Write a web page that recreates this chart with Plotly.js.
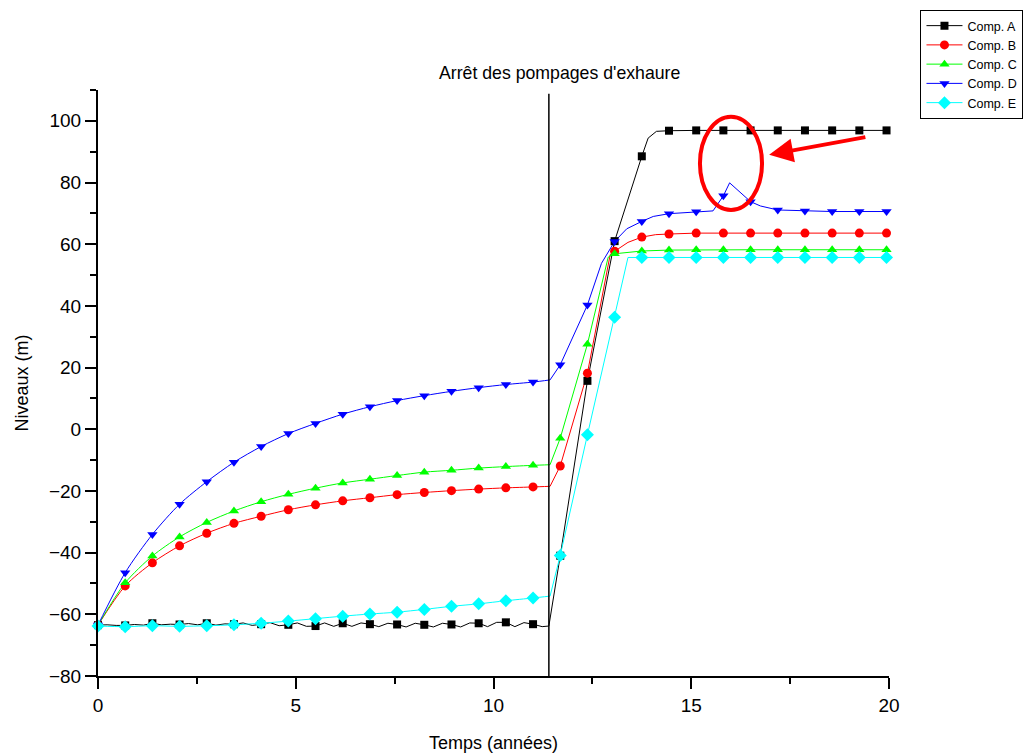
<!DOCTYPE html>
<html>
<head>
<meta charset="utf-8">
<script src="https://cdn.plot.ly/plotly-3.0.1.min.js"></script>
<style>
  html, body { margin: 0; padding: 0; background: #fff; }
  #chart { width: 1026px; height: 754px; }
</style>
</head>
<body>
<div id="chart"></div>
<script>
// Sampling times of the plotted markers (years)
const tMarks = [0, 0.6875, 1.375, 2.0625, 2.75, 3.4375, 4.125, 4.8125, 5.5, 6.1875,
  6.875, 7.5625, 8.25, 8.9375, 9.625, 10.3125, 11, 11.6875, 12.375, 13.0625,
  13.75, 14.4375, 15.125, 15.8125, 16.5, 17.1875, 17.875, 18.5625, 19.25, 19.9375];

// Levels (m) at the marker times
const compA = [-63.5, -63.6, -62.9, -63.3, -62.9, -63.2, -63.2, -63.4, -63.8, -62.9,
  -63.2, -63.3, -63.4, -63.3, -62.9, -62.6, -63.2, -41.0, 15.7, 61.0,
  88.5, 96.8, 96.9, 96.9, 96.9, 96.9, 96.9, 96.9, 96.9, 96.9];
const compB = [-63.5, -50.8, -43.3, -37.8, -33.7, -30.5, -28.2, -26.1, -24.5, -23.2,
  -22.2, -21.2, -20.5, -19.9, -19.4, -19.0, -18.7, -11.9, 18.2, 57.7,
  62.3, 63.3, 63.6, 63.6, 63.6, 63.6, 63.6, 63.6, 63.6, 63.6];
const compC = [-63.5, -49.8, -41.1, -34.9, -30.2, -26.5, -23.5, -21.1, -19.1, -17.4,
  -16.2, -15.0, -13.9, -13.3, -12.6, -12.1, -11.7, -2.9, 27.6, 56.9,
  57.8, 58.1, 58.2, 58.2, 58.2, 58.2, 58.2, 58.2, 58.2, 58.2];
const compD = [-63.5, -46.5, -34.1, -24.3, -17.0, -10.7, -5.6, -1.4, 1.9, 4.9,
  7.3, 9.3, 10.9, 12.3, 13.5, 14.5, 15.3, 20.9, 40.3, 60.9,
  67.4, 69.9, 70.5, 75.7, 73.8, 71.1, 70.8, 70.6, 70.6, 70.6];
const compE = [-63.8, -64.0, -63.7, -63.9, -63.7, -63.4, -62.9, -62.2, -61.4, -60.6,
  -59.9, -59.3, -58.4, -57.4, -56.6, -55.6, -54.7, -40.9, -1.8, 36.3,
  55.7, 55.7, 55.7, 55.7, 55.7, 55.7, 55.7, 55.7, 55.7, 55.7];

// Comp. A during pumping: finely sampled, oscillating record
const tA_pre = [0, 0.23, 0.46, 0.69, 0.92, 1.15, 1.38, 1.60, 1.83, 2.06, 2.29, 2.52, 2.75,
  2.98, 3.21, 3.44, 3.67, 3.90, 4.13, 4.35, 4.58, 4.81, 5.04, 5.27, 5.50, 5.73, 5.96,
  6.19, 6.42, 6.65, 6.88, 7.10, 7.33, 7.56, 7.79, 8.02, 8.25, 8.48, 8.71, 8.94, 9.17,
  9.40, 9.63, 9.85, 10.08, 10.31, 10.54, 10.77, 11.00, 11.23, 11.40];
const compA_pre = [-63.5, -63.4, -63.6, -63.6, -63.3, -63.5, -62.9, -63.4, -63.2, -63.3,
  -63.0, -63.4, -62.9, -63.5, -63.1, -63.2, -62.8, -63.6, -63.2, -62.7, -63.7, -63.4,
  -62.8, -63.9, -63.8, -62.8, -63.9, -62.9, -63.9, -62.8, -63.2, -64.0, -62.9, -63.3,
  -64.1, -62.9, -63.4, -64.1, -62.9, -63.3, -64.1, -62.8, -62.9, -64.0, -62.6, -62.6,
  -64.0, -62.7, -63.2, -64.0, -63.8];

// End of pumping (years) and level just before recovery for B..E
const tStop = 11.4;
const tKink = 11.43;
const kinkB = -18.5, kinkC = -11.5, kinkD = 16.0, kinkE = -54.1;

// Recovery phase, finer record
const tA_post = [11.4, 11.6875, 12.375, 13.0625, 13.75, 13.91, 14.12, 14.4375, 15.125,
  15.8125, 16.5, 17.1875, 17.875, 18.5625, 19.25, 19.9375];
const compA_post = [-63.8, -41.0, 15.7, 61.0, 88.5, 94.4, 96.6, 96.8, 96.9,
  96.9, 96.9, 96.9, 96.9, 96.9, 96.9, 96.9];
const tB_post = [11.43, 11.6875, 12.375, 12.95, 13.0625, 13.4, 13.75, 14.1, 14.4375,
  15.125, 15.8125, 16.5, 17.1875, 17.875, 18.5625, 19.25, 19.9375];
const compB_post = [-18.5, -11.9, 18.2, 56.6, 57.7, 60.6, 62.3, 63.1, 63.3,
  63.6, 63.6, 63.6, 63.6, 63.6, 63.6, 63.6, 63.6];
const tC_post = [11.43, 11.6875, 12.375, 12.9, 13.0625, 13.75, 14.4375, 15.125,
  15.8125, 16.5, 17.1875, 17.875, 18.5625, 19.25, 19.9375];
const compC_post = [-11.5, -2.9, 27.6, 55.8, 56.9, 57.8, 58.1, 58.2,
  58.2, 58.2, 58.2, 58.2, 58.2, 58.2, 58.2];
const tD_post = [11.43, 11.6875, 12.375, 12.73, 13.0625, 13.37, 13.75, 14.04, 14.4375,
  15.125, 15.55, 15.8125, 15.97, 16.5, 16.75, 17.1875, 17.875, 18.5625, 19.25, 19.9375];
const compD_post = [16.0, 20.9, 40.3, 53.8, 60.9, 65.0, 67.4, 69.0, 69.9,
  70.5, 70.8, 75.7, 79.9, 73.8, 72.4, 71.1, 70.8, 70.6, 70.6, 70.6];
const tE_post = [11.43, 11.6875, 12.375, 13.0625, 13.40, 13.75, 14.4375, 15.125,
  15.8125, 16.5, 17.1875, 17.875, 18.5625, 19.25, 19.9375];
const compE_post = [-54.1, -40.9, -1.8, 36.3, 55.7, 55.7, 55.7, 55.7,
  55.7, 55.7, 55.7, 55.7, 55.7, 55.7, 55.7];

const names = ['Comp. A', 'Comp. B', 'Comp. C', 'Comp. D', 'Comp. E'];
const colors = ['#000000', '#ff0000', '#00ff00', '#0000ff', '#00ffff'];
const symbols = ['square', 'circle', 'triangle-up', 'triangle-down', 'diamond'];
const sizes = [8, 9, 9, 9, 10];

const nPre = 17; // markers recorded before the stop
const preT = tMarks.slice(0, nPre).concat([tKink]);

const lines = [
  { pre: [tA_pre, compA_pre, 'linear'], post: [tA_post, compA_post], marks: compA },
  { pre: [preT, compB.slice(0, nPre).concat([kinkB]), 'spline'], post: [tB_post, compB_post], marks: compB },
  { pre: [preT, compC.slice(0, nPre).concat([kinkC]), 'spline'], post: [tC_post, compC_post], marks: compC },
  { pre: [preT, compD.slice(0, nPre).concat([kinkD]), 'spline'], post: [tD_post, compD_post], marks: compD },
  { pre: [preT, compE.slice(0, nPre).concat([kinkE]), 'spline'], post: [tE_post, compE_post], marks: compE }
];

const traces = [];
lines.forEach((s, i) => {
  traces.push({
    x: s.pre[0], y: s.pre[1], type: 'scatter', mode: 'lines',
    line: { color: colors[i], width: 1, shape: s.pre[2], smoothing: 0.8 },
    showlegend: false, hoverinfo: 'skip', cliponaxis: false
  });
  traces.push({
    x: s.post[0], y: s.post[1], type: 'scatter', mode: 'lines',
    line: { color: colors[i], width: 1 },
    showlegend: false, hoverinfo: 'skip', cliponaxis: false
  });
});
lines.forEach((s, i) => {
  traces.push({
    x: tMarks, y: s.marks, type: 'scatter', mode: 'markers', name: names[i],
    marker: { color: colors[i], symbol: symbols[i], size: sizes[i], line: { width: 0 } },
    showlegend: false, cliponaxis: false
  });
});
// legend entries (line + symbol)
names.forEach((n, i) => {
  traces.push({
    x: [null], y: [null], type: 'scatter', mode: 'lines+markers', name: n,
    line: { color: colors[i], width: 1 },
    marker: { color: colors[i], symbol: symbols[i], size: sizes[i] }
  });
});

const FONT = 'Arial, "Liberation Sans", sans-serif';

const axisCommon = {
  showline: true, linecolor: '#000', linewidth: 2,
  ticks: 'outside', ticklen: 11, tickwidth: 2, tickcolor: '#000',
  showgrid: false, zeroline: false,
  tickfont: { family: FONT, size: 19, color: '#000' }
};

const layout = {
  width: 1026, height: 754,
  margin: { l: 98, r: 137, t: 90, b: 78, autoexpand: false },
  paper_bgcolor: '#fff', plot_bgcolor: '#fff',
  font: { family: FONT, color: '#000' },
  xaxis: Object.assign({}, axisCommon, {
    range: [0, 20], tick0: 0, dtick: 5,
    minor: { dtick: 2.5, ticks: 'outside', ticklen: 6, tickwidth: 2, tickcolor: '#000' },
    title: { text: 'Temps (années)', font: { family: FONT, size: 18, color: '#000' }, standoff: 22 }
  }),
  yaxis: Object.assign({}, axisCommon, {
    range: [-80, 110], tick0: 0, dtick: 20,
    minor: { dtick: 10, ticks: 'outside', ticklen: 6, tickwidth: 2, tickcolor: '#000' },
    title: { text: 'Niveaux (m)', font: { family: FONT, size: 18, color: '#000' }, standoff: 16 }
  }),
  legend: {
    x: 1.17, xanchor: 'right', y: 1.1365, yanchor: 'top',
    bordercolor: '#000', borderwidth: 1, bgcolor: '#fff',
    font: { family: FONT, size: 12.5, color: '#000' },
    tracegroupgap: 0, itemwidth: 36, traceorder: 'normal'
  },
  shapes: [
    { type: 'line', xref: 'x', yref: 'y', x0: tStop, x1: tStop, y0: -80, y1: 108.8,
      line: { color: '#000', width: 1.5 } },
    { type: 'circle', xref: 'x', yref: 'y', x0: 15.22, x1: 16.79, y0: 71.1, y1: 101.3,
      line: { color: '#ff0000', width: 4 } }
  ],
  annotations: [
    { text: "Arrêt des pompages d'exhaure", xref: 'x', yref: 'paper', x: 11.66, y: 1.029,
      yanchor: 'middle', showarrow: false, font: { family: FONT, size: 17.7, color: '#000' } },
    { text: '', xref: 'x', yref: 'y', x: 16.97, y: 89.0, axref: 'x', ayref: 'y',
      ax: 19.44, ay: 94.8, showarrow: true, arrowhead: 2, arrowsize: 1.2,
      arrowwidth: 4, arrowcolor: '#ff0000', standoff: 0 }
  ],
  showlegend: true
};

Plotly.newPlot('chart', traces, layout, { displayModeBar: false, staticPlot: true });
</script>
</body>
</html>
